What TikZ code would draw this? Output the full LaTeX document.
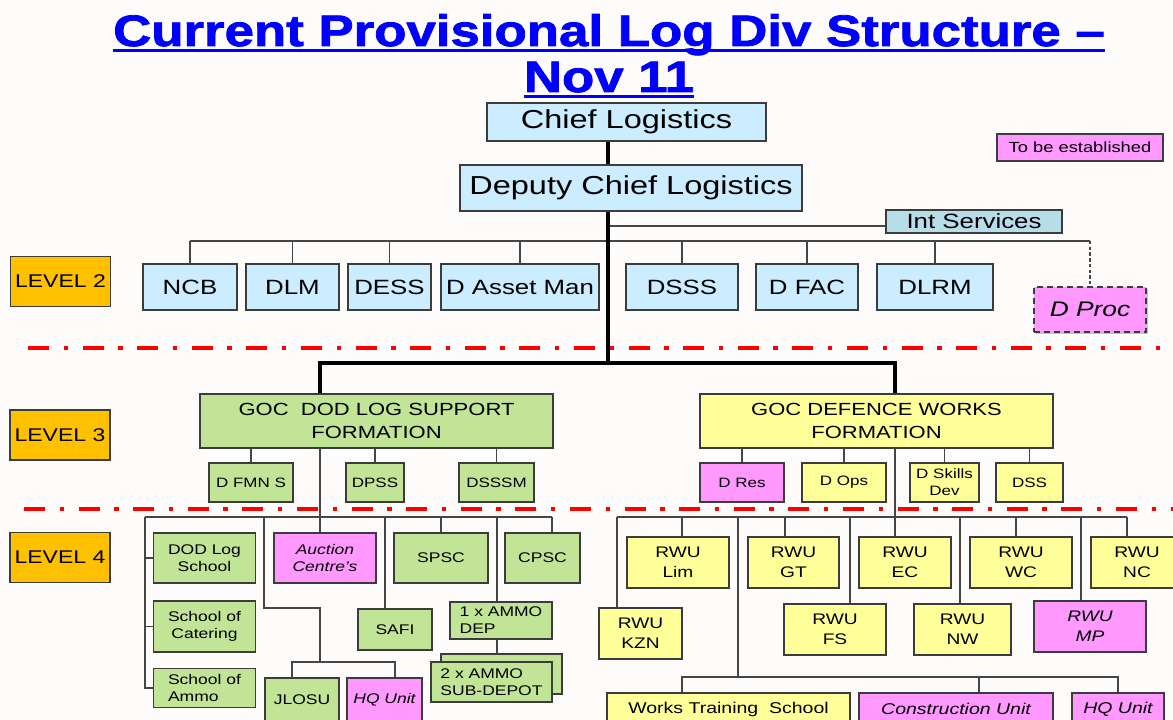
\documentclass[tikz,border=0pt]{standalone}
\usepackage{fontspec}
\setmainfont{Liberation Sans}[FakeStretch=1.25]
\newfontfamily\ttlfont{Liberation Sans Bold}[FakeStretch=1.2, FakeBold=1.8]
\usetikzlibrary{shadows}
\definecolor{bgc}{RGB}{254,251,251}
\definecolor{lblue}{RGB}{204,236,255}
\definecolor{intc}{RGB}{183,222,232}
\definecolor{mag}{RGB}{255,153,255}
\definecolor{orng}{RGB}{255,192,0}
\definecolor{grn}{RGB}{193,228,150}
\definecolor{ylw}{RGB}{255,255,153}
\definecolor{bord}{RGB}{60,60,60}
\definecolor{linec}{RGB}{70,70,70}
\definecolor{tblue}{RGB}{0,0,255}
\newcommand{\fsz}[2]{\fontsize{#1}{#2}\selectfont}
\begin{document}
\begin{tikzpicture}[x=0.75pt,y=-0.75pt,
  bx/.style={draw=bord, line width=1.1pt, inner sep=0pt, align=center},
  sz/.style 2 args={minimum width=#1*0.75pt, minimum height=#2*0.75pt},
  blu/.style={bx, fill=lblue},
  mg/.style={bx, fill=mag},
  gr/.style={bx, fill=grn},
  yl/.style={bx, fill=ylw},
  lvl/.style={bx, fill=orng, sz={100}{50}, font=\fsz{13.8}{16}},
  conn/.style={draw=linec, line width=1.1pt},
  thk/.style={draw=black, line width=2.3pt},
  redl/.style={draw=red, line width=3pt, dash pattern=on 15.75pt off 10.9pt on 3.4pt off 10.9pt},
  ttl/.style={anchor=base, inner sep=0pt, text=tblue, font=\ttlfont\fsz{33}{33}},
  l2f/.style={font=\fsz{15.5}{18}},
  l3f/.style={font=\fsz{10.2}{12.75}},
  l4f/.style={font=\fsz{10.5}{12.75}},
  l4i/.style={font=\fsz{10.5}{12.75}\itshape},
  rwf/.style={font=\fsz{11.5}{15}},
  rwi/.style={font=\fsz{11.5}{15}\itshape}
]
\useasboundingbox (0,0) rectangle (1173,720);
\fill[bgc] (0,0) rectangle (1173,720);
\begin{scope}
\clip (0,0) rectangle (1173,720);

% title
\node[ttl] (t1) at (609,46) {Current Provisional Log Div Structure –};
\draw[tblue, line width=2.2pt] ([yshift=-3.2pt]t1.base west) -- ([yshift=-3.2pt]t1.base east);
\node[ttl] (t2) at (609,92) {Nov 11};
\draw[tblue, line width=2.2pt] ([yshift=-3.2pt]t2.base west) -- ([yshift=-3.2pt]t2.base east);

% coordinates
\coordinate (mx) at (608,0);
\coordinate (lx) at (320,0);
\coordinate (rx) at (895,0);
\coordinate (b2) at (0,241);
\coordinate (bi) at (0,226);
\coordinate (b3) at (0,363);
\coordinate (b4) at (0,517);
\coordinate (r1s) at (28,348);
\coordinate (r1e) at (1173,348);
\coordinate (r2s) at (24,509);
\coordinate (r2e) at (1173,509);

% red separators
\draw[redl] (r1s) -- (r1e);
\draw[redl] (r2s) -- (r2e);

% top
\node[blu, sz={279}{38}, font=\fsz{19.5}{22}] (chief) at (626.5,122) {Chief Logistics};
\node[blu, sz={342}{46}, font=\fsz{19.5}{22}] (deputy) at (631,188) {Deputy Chief Logistics};
\node[bx, fill=intc, sz={176}{23}, font=\fsz{15.5}{18}] (int) at (974,221.5) {Int Services};
\node[mg, sz={166}{27}, font=\fsz{11}{13}] (tobe) at (1080,147.5) {To be established};

% levels
\node[lvl] (lv2) at (60.5,281.5) {LEVEL 2};
\node[lvl] (lv3) at (60,435) {LEVEL 3};
\node[lvl] (lv4) at (60,557.5) {LEVEL 4};

% level 2
\node[blu, sz={94}{46}, l2f] (ncb) at (190,287) {NCB};
\node[blu, sz={93}{46}, l2f] (dlm) at (292.5,287) {DLM};
\node[blu, sz={83}{46}, l2f] (dess) at (389.5,287) {DESS};
\node[blu, sz={158}{46}, l2f] (dasset) at (520,287) {D Asset Man};
\node[blu, sz={112}{46}, l2f] (dsss) at (682,287) {DSSS};
\node[blu, sz={102}{46}, l2f] (dfac) at (807,287) {D FAC};
\node[blu, sz={116}{46}, l2f] (dlrm) at (935,287) {DLRM};
\node[mg, sz={112}{45}, line width=1.8pt, dash pattern=on 4.5pt off 3pt,
      drop shadow={shadow xshift=1.8pt, shadow yshift=-1.8pt, fill=black!45},
      font=\fsz{15.8}{18}\itshape] (dproc) at (1090,309.5) {D Proc};

\draw[thk] (chief.south -| mx) -- (deputy.north -| mx);
\draw[conn] (bi -| mx) -- (bi -| int.west);
\draw[conn] (b2 -| ncb.north) -- (b2 -| dproc.north);
\foreach \n in {ncb,dlm,dess,dasset,dsss,dfac,dlrm}
  \draw[conn] (\n.north) -- (\n.north |- b2);
\draw[conn, dash pattern=on 2.5pt off 1.8pt] (b2 -| dproc.north) -- (dproc.north);

% level 3
\node[gr, sz={353}{54}, font=\fsz{13.2}{17}] (gocl) at (376.5,421) {GOC\ \ DOD LOG SUPPORT\\FORMATION};
\node[yl, sz={353}{54}, font=\fsz{13.2}{17}] (gocr) at (876.5,421) {GOC DEFENCE WORKS\\FORMATION};
\draw[thk] (deputy.south -| mx) -- (b3 -| mx);
\draw[thk] (gocl.north -| lx) -- (b3 -| lx) -- (b3 -| rx) -- (gocr.north -| rx);

\node[gr, sz={84}{39}, l3f] (dfmns) at (251,482.5) {D FMN S};
\node[gr, sz={58}{39}, l3f] (dpss) at (375,482.5) {DPSS};
\node[gr, sz={75}{39}, l3f] (dsssm) at (496.5,482.5) {DSSSM};
\node[mg, sz={84}{39}, l3f] (dres) at (742,482.5) {D Res};
\node[yl, sz={84}{39}, l3f] (dops) at (844,482.5) {D Ops};
\node[yl, sz={69}{39}, l3f] (dskills) at (944.5,482.5) {D Skills\\Dev};
\node[yl, sz={67}{39}, l3f] (dss) at (1029.5,482.5) {DSS};
\foreach \n in {dfmns,dpss,dsssm}
  \draw[conn] (\n.north) -- (\n.north |- gocl.south);
\foreach \n in {dres,dops,dskills,dss}
  \draw[conn] (\n.north) -- (\n.north |- gocr.south);

% level 4 left
\node[gr, sz={102}{50}, l4f] (dodlog) at (204.5,558) {DOD Log\\School};
\node[gr, sz={102}{51}, l4f] (cater) at (204.5,626.5) {School of\\Catering};
\node[gr, sz={102}{39}, l4f, align=left] (ammo) at (204.5,688) {School of\\Ammo};
\node[mg, sz={102}{50}, l4i] (auction) at (325,558) {Auction\\Centre's};
\node[gr, sz={94}{50}, l4f] (spsc) at (441,558) {SPSC};
\node[gr, sz={75}{50}, l4f] (cpsc) at (542.5,558) {CPSC};
\node[gr, sz={74}{41}, l4f] (safi) at (395,629.5) {SAFI};
\node[gr, sz={102}{37}, l4f, align=left] (ammodep) at (501,620.5) {1 x AMMO\\DEP};
\node[gr, sz={121}{40}] (subback) at (501.5,674) {};
\node[gr, sz={121}{40}, l4f, align=left] (subfront) at (491.5,682) {2 x AMMO\\SUB-DEPOT};
\node[gr, sz={74}{44}, l4f] (jlosu) at (302,700) {JLOSU};
\node[mg, sz={75}{44}, l4i] (hql) at (384.5,700) {HQ Unit};

\coordinate (l4a) at (145,517);
\coordinate (l4b) at (552,517);
\coordinate (jx) at (264,0);
\coordinate (jy) at (0,608);
\coordinate (jb) at (0,662);
\coordinate (jlx) at (292,0);
\coordinate (hqx) at (395,0);
\coordinate (sx) at (385,0);
\coordinate (ax) at (497,0);
\coordinate (cx) at (552,0);

\draw[conn] (l4a) -- (l4b);
\draw[conn] (l4a) -- (l4a |- ammo.west) -- (ammo.west);
\draw[conn] (l4a |- dodlog.west) -- (dodlog.west);
\draw[conn] (l4a |- cater.west) -- (cater.west);
\draw[conn] (gocl.south -| lx) -- (auction.north -| lx);
\draw[conn] (b4 -| jx) -- (jy -| jx) -- (jy -| lx) -- (jb -| lx);
\draw[conn] (jlosu.north -| jlx) -- (jb -| jlx) -- (jb -| hqx) -- (hql.north -| hqx);
\draw[conn] (b4 -| sx) -- (safi.north -| sx);
\draw[conn] (b4 -| spsc.north) -- (spsc.north);
\draw[conn] (b4 -| ax) -- (ammodep.north -| ax);
\draw[conn] (ammodep.south -| ax) -- (subback.north -| ax);
\draw[conn] (b4 -| cx) -- (cpsc.north -| cx);

% level 4 right
\node[yl, sz={83}{51}, rwf] (kzn) at (640.5,633.5) {RWU\\KZN};
\node[yl, sz={102}{51}, rwf] (lim) at (678,562.5) {RWU\\Lim};
\node[yl, sz={91}{51}, rwf] (gt) at (793.5,562.5) {RWU\\GT};
\node[yl, sz={102}{51}, rwf] (fs) at (835,629.5) {RWU\\FS};
\node[yl, sz={92}{51}, rwf] (ec) at (905,562.5) {RWU\\EC};
\node[yl, sz={97}{51}, rwf] (nw) at (962.5,629.5) {RWU\\NW};
\node[yl, sz={102}{51}, rwf] (wc) at (1021,562.5) {RWU\\WC};
\node[mg, sz={112}{51}, rwi] (mp) at (1090,626.5) {RWU\\MP};
\node[yl, sz={92}{51}, rwf] (nc) at (1137,562.5) {RWU\\NC};
\node[yl, sz={243}{32}, font=\fsz{11.7}{14}] (wts) at (728.5,709) {Works Training\ \ School};
\node[mg, sz={194}{32}, font=\fsz{11.7}{14}\itshape] (cu) at (956,709) {Construction Unit};
\node[mg, sz={92}{32}, font=\fsz{11.7}{14}\itshape] (hqr) at (1118,709) {HQ Unit};

\coordinate (r4a) at (617,517);
\coordinate (r4b) at (1127,517);
\coordinate (kx) at (617,0);
\coordinate (limx) at (682,0);
\coordinate (wx) at (738,0);
\coordinate (gtx) at (785,0);
\coordinate (fsx) at (850,0);
\coordinate (nwx) at (960,0);
\coordinate (wcx) at (1016,0);
\coordinate (mpx) at (1081,0);
\coordinate (ncx) at (1127,0);
\coordinate (wb) at (0,677);
\coordinate (cux) at (979,0);
\coordinate (hqrx) at (1118,0);

\draw[conn] (r4a) -- (r4b);
\draw[conn] (r4a) -- (kzn.north -| kx);
\draw[conn] (b4 -| limx) -- (lim.north -| limx);
\draw[conn] (b4 -| gtx) -- (gt.north -| gtx);
\draw[conn] (gocr.south -| rx) -- (ec.north -| rx);
\draw[conn] (b4 -| wcx) -- (wc.north -| wcx);
\draw[conn] (b4 -| ncx) -- (nc.north -| ncx);
\draw[conn] (b4 -| fsx) -- (fs.north -| fsx);
\draw[conn] (b4 -| nwx) -- (nw.north -| nwx);
\draw[conn] (b4 -| mpx) -- (mp.north -| mpx);
\draw[conn] (b4 -| wx) -- (wb -| wx);
\draw[conn] (wts.north -| limx) -- (wb -| limx) -- (wb -| hqrx) -- (hqr.north -| hqrx);
\draw[conn] (wb -| cux) -- (cu.north -| cux);
\end{scope}
\end{tikzpicture}
\end{document}
